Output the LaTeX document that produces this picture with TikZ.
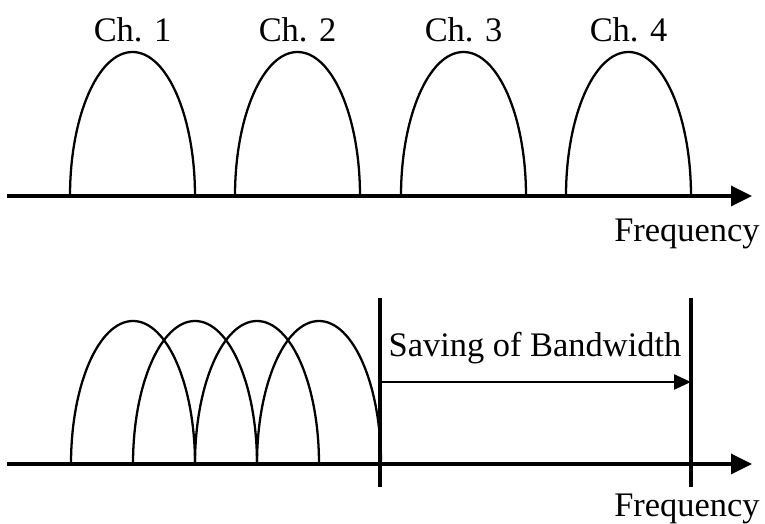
\documentclass[tikz,border=0pt]{standalone}
\usepackage{fontspec}
\setmainfont{Liberation Serif}
\usetikzlibrary{arrows.meta}
\tikzset{
  axisline/.style={line width=2pt, -{Triangle[length=0.42cm,width=0.4cm]}},
  lobe/.style={line width=1.3pt},
  bandmark/.style={line width=2pt},
  saving/.style={line width=1.3pt, -{Triangle[length=0.34cm,width=0.3cm]}},
  lbl/.style={font=\fontsize{19.6}{23}\selectfont, inner sep=0pt},
}
\begin{document}
\begin{tikzpicture}[x=0.02cm, y=0.02cm]
  \useasboundingbox (0,0) rectangle (765,524);

  % separate channels
  \coordinate (top start) at (7,328);
  \coordinate (top end) at (752,328);
  \draw[axisline] (top start) -- (top end);
  \foreach \i/\x in {1/70, 2/235, 3/401, 4/566} {
    \draw[lobe] (\x,328) arc[start angle=180, end angle=0, x radius=62.5, y radius=144];
    \node[lbl, anchor=base] (ch\i) at (\x+62.5,482) {Ch. \i};
  }
  \node[lbl, anchor=base east] (freq top) at (760,282) {Frequency};

  % overlapping channels
  \coordinate (bot start) at (7,60);
  \coordinate (bot end) at (752,60);
  \draw[axisline] (bot start) -- (bot end);
  \foreach \x in {71, 133, 195, 257} {
    \draw[lobe] (\x,60) arc[start angle=180, end angle=0, x radius=62, y radius=143];
  }
  \coordinate (mark1 top) at (380,226);
  \coordinate (mark1 bot) at (380,37);
  \coordinate (mark2 top) at (691,226);
  \coordinate (mark2 bot) at (691,37);
  \draw[bandmark] (mark1 top) -- (mark1 bot);
  \draw[bandmark] (mark2 top) -- (mark2 bot);
  \coordinate (save from) at (380,142);
  \coordinate (save to) at (691,142);
  \draw[saving] (save from) -- (save to);
  \node[lbl, anchor=base] (saving) at (535,167) {Saving of Bandwidth};
  \node[lbl, anchor=base east] (freq bot) at (760,7) {Frequency};
\end{tikzpicture}
\end{document}
